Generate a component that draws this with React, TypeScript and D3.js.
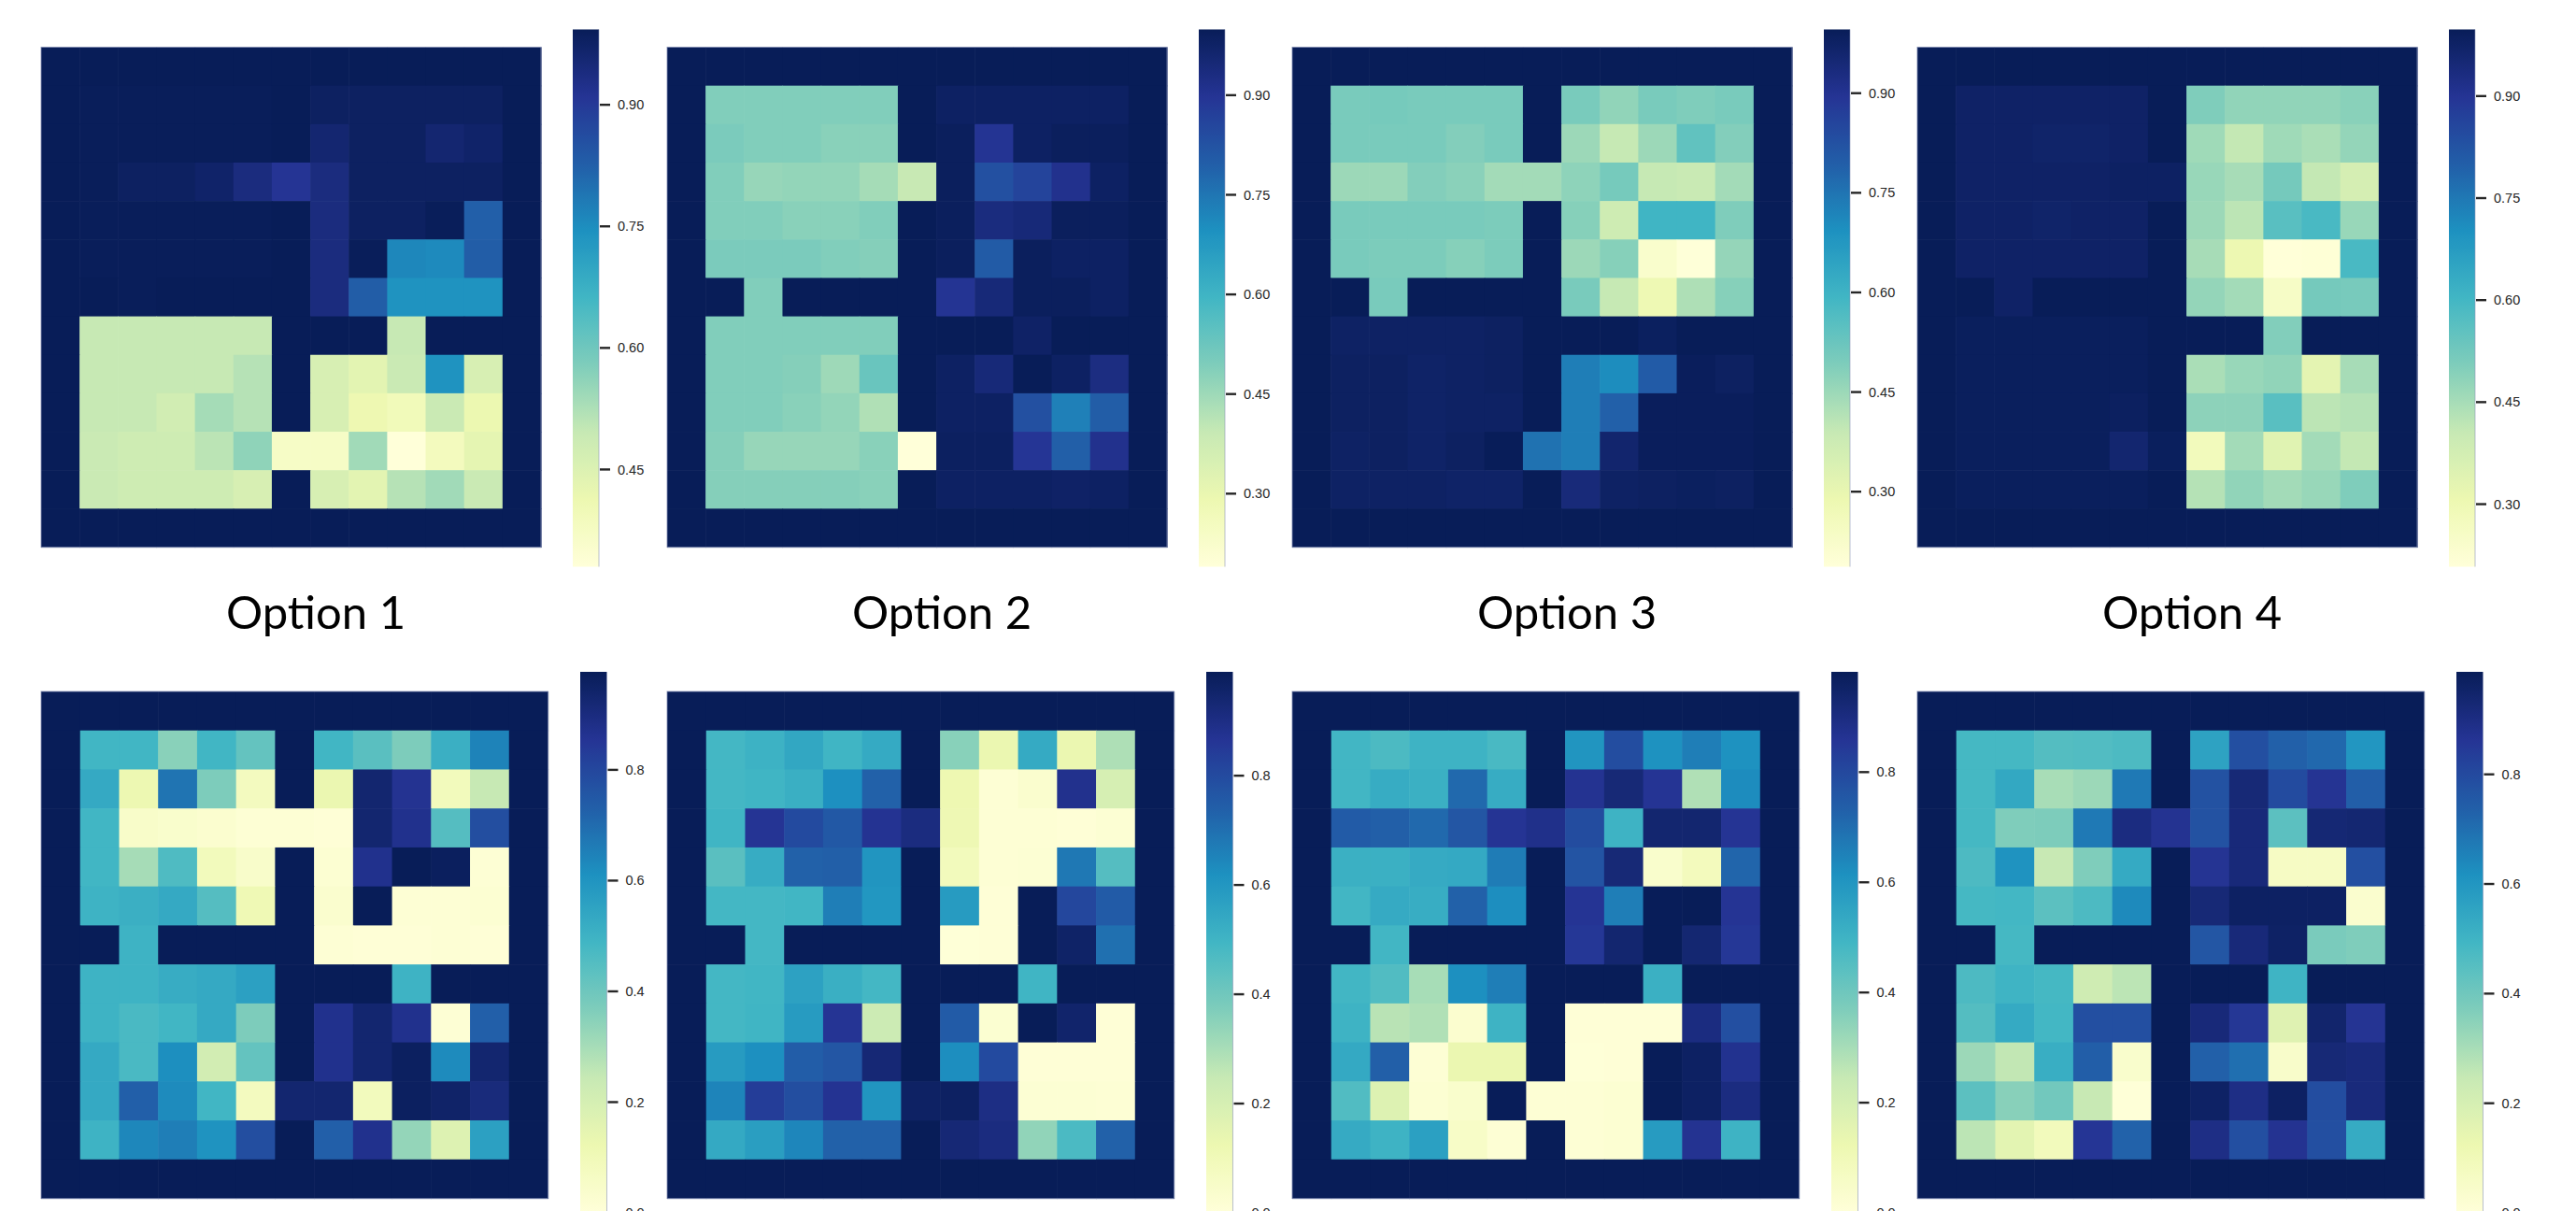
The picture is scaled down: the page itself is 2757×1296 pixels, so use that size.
import React from 'react';
import * as d3 from 'd3';

// ---- data: 13x13 four-room grids, null = wall (drawn with colorbar max) ----
const P1 = [
  [null, null, null, null, null, null, null, null, null, null, null, null, null],
  [null, .99, .99, .99, .99, .99, null, .98, .98, .98, .98, .98, null],
  [null, .99, .99, .99, .99, .99, null, .96, .98, .98, .96, .97, null],
  [null, .99, .98, .98, .97, .94, .91, .94, .98, .98, .98, .98, null],
  [null, .99, .99, .99, .99, .99, null, .94, .98, .98, .99, .825, null],
  [null, .99, .99, .99, .99, .99, null, .94, .99, .76, .755, .83, null],
  [null, null, .99, null, null, null, null, .94, .83, .74, .74, .74, null],
  [null, .495, .495, .495, .495, .495, null, null, null, .495, null, null, null],
  [null, .495, .495, .495, .495, .515, null, .46, .435, .49, .74, .46, null],
  [null, .495, .495, .475, .535, .515, null, .46, .41, .395, .49, .415, null],
  [null, .49, .48, .48, .51, .56, .37, .37, .54, .33, .385, .43, null],
  [null, .49, .48, .48, .48, .46, null, .46, .435, .515, .54, .49, null],
  [null, null, null, null, null, null, null, null, null, null, null, null, null],
];
const P2 = [
  [null, null, null, null, null, null, null, null, null, null, null, null, null],
  [null, .49, .49, .49, .49, .49, null, .98, .98, .98, .98, .98, null],
  [null, .50, .49, .49, .48, .48, null, .99, .90, .98, .99, .99, null],
  [null, .49, .46, .465, .465, .44, .39, .99, .83, .86, .91, .98, null],
  [null, .49, .49, .48, .48, .49, null, .99, .935, .945, .99, .99, null],
  [null, .50, .50, .50, .49, .485, null, .99, .805, .99, .98, .98, null],
  [null, null, .49, null, null, null, null, .90, .945, .99, .99, .98, null],
  [null, .49, .49, .49, .49, .49, null, null, null, .975, null, null, null],
  [null, .49, .49, .485, .45, .53, null, .98, .945, 1.0, .98, .93, null],
  [null, .49, .49, .48, .465, .425, null, .98, .98, .83, .73, .80, null],
  [null, .485, .46, .46, .46, .48, .19, .985, .985, .895, .795, .91, null],
  [null, .485, .485, .485, .485, .48, null, .98, .98, .98, .975, .98, null],
  [null, null, null, null, null, null, null, null, null, null, null, null, null],
];
const P3 = [
  [null, null, null, null, null, null, null, null, null, null, null, null, null],
  [null, .50, .505, .50, .50, .50, null, .50, .465, .50, .49, .50, null],
  [null, .50, .50, .50, .485, .50, null, .45, .39, .45, .54, .485, null],
  [null, .45, .45, .485, .475, .44, .44, .47, .505, .39, .385, .44, null],
  [null, .50, .50, .50, .50, .495, null, .48, .37, .595, .595, .49, null],
  [null, .50, .495, .495, .48, .495, null, .45, .48, .22, .19, .46, null],
  [null, null, .50, null, null, null, null, .50, .39, .28, .425, .48, null],
  [null, .975, .975, .975, .975, .98, null, null, null, .985, null, null, null],
  [null, .98, .98, .97, .975, .98, null, .73, .70, .80, .99, .98, null],
  [null, .98, .98, .97, .975, .975, null, .73, .79, .99, .99, .99, null],
  [null, .975, .98, .97, .98, .995, .755, .73, .96, .99, .99, .99, null],
  [null, .975, .975, .975, .97, .97, null, .94, .975, .98, .985, .98, null],
  [null, null, null, null, null, null, null, null, null, null, null, null, null],
];
const P4 = [
  [null, null, null, null, null, null, null, null, null, null, null, null, null],
  [null, .975, .975, .975, .975, .975, null, .505, .48, .48, .48, .49, null],
  [null, .975, .975, .97, .97, .975, null, .46, .41, .46, .445, .475, null],
  [null, .975, .975, .975, .975, .98, .98, .47, .45, .52, .41, .37, null],
  [null, .975, .975, .97, .975, .975, null, .465, .42, .565, .59, .47, null],
  [null, .975, .975, .975, .975, .975, null, .45, .305, .21, .215, .59, null],
  [null, null, .975, null, null, null, null, .475, .455, .255, .52, .515, null],
  [null, .99, .99, .99, .99, .99, null, null, null, .50, null, null, null],
  [null, .99, .99, .99, .99, .99, null, .445, .47, .48, .33, .45, null],
  [null, .99, .99, .99, .99, .985, null, .485, .485, .565, .42, .43, null],
  [null, .99, .99, .99, .99, .96, .99, .28, .455, .34, .455, .41, null],
  [null, .99, .99, .99, .99, .99, null, .43, .48, .455, .47, .505, null],
  [null, null, null, null, null, null, null, null, null, null, null, null, null],
];
const P5 = [
  [null, null, null, null, null, null, null, null, null, null, null, null, null],
  [null, .49, .49, .35, .49, .42, null, .49, .44, .37, .51, .645, null],
  [null, .53, .12, .68, .37, .08, null, .13, .93, .86, .09, .245, null],
  [null, .49, .05, .04, .03, .015, .015, .01, .93, .87, .45, .78, null],
  [null, .49, .30, .46, .09, .045, null, .02, .87, .977, .965, .015, null],
  [null, .50, .51, .53, .45, .11, null, .035, .977, .015, .015, .02, null],
  [null, null, .50, null, null, null, null, .015, .01, .01, .015, .01, null],
  [null, .50, .50, .52, .53, .56, null, null, null, .50, null, null, null],
  [null, .50, .47, .49, .53, .37, null, .87, .93, .87, .015, .73, null],
  [null, .53, .47, .615, .21, .42, null, .87, .93, .96, .625, .93, null],
  [null, .53, .73, .625, .49, .08, .93, .93, .085, .96, .945, .905, null],
  [null, .50, .635, .655, .605, .78, null, .73, .87, .33, .175, .56, null],
  [null, null, null, null, null, null, null, null, null, null, null, null, null],
];
const P6 = [
  [null, null, null, null, null, null, null, null, null, null, null, null, null],
  [null, .49, .51, .545, .50, .535, null, .355, .13, .535, .13, .29, null],
  [null, .49, .50, .52, .62, .735, null, .12, .015, .035, .88, .20, null],
  [null, .50, .865, .80, .76, .87, .91, .115, .015, .015, .01, .02, null],
  [null, .445, .53, .735, .74, .605, null, .09, .015, .02, .68, .455, null],
  [null, .49, .49, .495, .665, .60, null, .585, .01, .99, .81, .75, null],
  [null, null, .49, null, null, null, null, .005, .01, .99, .96, .70, null],
  [null, .49, .495, .565, .52, .49, null, null, null, .50, null, null, null],
  [null, .49, .50, .585, .865, .23, null, .75, .025, .99, .95, .01, null],
  [null, .585, .62, .745, .765, .93, null, .625, .80, .01, .01, .01, null],
  [null, .65, .84, .79, .87, .605, .965, .97, .90, .02, .02, .015, null],
  [null, .54, .575, .645, .735, .735, null, .93, .91, .34, .475, .735, null],
  [null, null, null, null, null, null, null, null, null, null, null, null, null],
];
const P7 = [
  [null, null, null, null, null, null, null, null, null, null, null, null, null],
  [null, .49, .47, .50, .50, .475, null, .60, .785, .61, .66, .61, null],
  [null, .49, .525, .51, .71, .525, null, .865, .92, .86, .285, .625, null],
  [null, .745, .735, .71, .76, .86, .88, .79, .50, .935, .935, .86, null],
  [null, .51, .51, .53, .535, .665, null, .765, .92, .04, .085, .72, null],
  [null, .49, .53, .52, .73, .62, null, .86, .66, .98, .982, .86, null],
  [null, null, .49, null, null, null, null, .85, .935, .98, .93, .85, null],
  [null, .49, .46, .30, .615, .66, null, null, null, .51, null, null, null],
  [null, .50, .27, .285, .03, .50, null, .01, .01, .01, .90, .78, null],
  [null, .535, .735, .015, .13, .13, null, .005, .01, .98, .96, .87, null],
  [null, .46, .175, .02, .04, .98, .015, .015, .02, .98, .96, .90, null],
  [null, .53, .50, .565, .055, .015, null, .015, .02, .58, .865, .50, null],
  [null, null, null, null, null, null, null, null, null, null, null, null, null],
];
const P8 = [
  [null, null, null, null, null, null, null, null, null, null, null, null, null],
  [null, .485, .485, .455, .46, .47, null, .56, .785, .735, .715, .60, null],
  [null, .485, .54, .30, .32, .675, null, .775, .925, .795, .865, .74, null],
  [null, .485, .37, .375, .675, .905, .87, .775, .92, .44, .93, .935, null],
  [null, .47, .61, .245, .37, .535, null, .865, .92, .065, .065, .785, null],
  [null, .485, .49, .44, .47, .635, null, .925, .965, .965, .965, .035, null],
  [null, null, .485, null, null, null, null, .765, .92, .96, .38, .37, null],
  [null, .47, .50, .485, .22, .265, null, null, null, .50, null, null, null],
  [null, .455, .535, .49, .785, .785, null, .92, .855, .17, .945, .865, null],
  [null, .32, .255, .52, .74, .04, null, .735, .70, .045, .925, .915, null],
  [null, .44, .355, .395, .245, .005, .985, .96, .895, .965, .79, .915, null],
  [null, .265, .155, .09, .86, .73, null, .895, .785, .87, .785, .53, null],
  [null, null, null, null, null, null, null, null, null, null, null, null, null],
];

const PANELS = [P1, P2, P3, P4, P5, P6, P7, P8];
const CBAR_MIN = [0.33, 0.19, 0.187, 0.208, 0, 0, 0, 0];
const CBAR_MAX = [0.993, 0.999, 0.996, 0.998, 0.977, 0.99, 0.982, 0.987];
const CBAR_TICKS = [
  [0.45, 0.6, 0.75, 0.9],
  [0.3, 0.45, 0.6, 0.75, 0.9],
  [0.3, 0.45, 0.6, 0.75, 0.9],
  [0.3, 0.45, 0.6, 0.75, 0.9],
  [0, 0.2, 0.4, 0.6, 0.8],
  [0, 0.2, 0.4, 0.6, 0.8],
  [0, 0.2, 0.4, 0.6, 0.8],
  [0, 0.2, 0.4, 0.6, 0.8],
];
const TICK_DECIMALS = [2, 2, 2, 2, 1, 1, 1, 1];
const OPTION_TITLES = ['Option 1', 'Option 2', 'Option 3', 'Option 4'];

// ---- layout ----
const W = 2757;
const H = 1296;
const PANEL_LEFT = [44, 714, 1383, 2052];
const ROW_LAYOUT = [
  { top: 50.5, size: 535, cbOffset: 569, cbWidth: 28, cbTop: 31.5, cbHeight: 575 },
  { top: 740, size: 542.5, cbOffset: 577, cbWidth: 28.5, cbTop: 719, cbHeight: 579 },
];
const TITLE_OFFSET = 294;
const TITLE_BASELINE = 673;

const cmap = d3.piecewise(d3.interpolateRgb, d3.schemeYlGnBu[9] as string[]);

function Panel({ idx }: { idx: number }) {
  const grid = PANELS[idx];
  const r = idx < 4 ? 0 : 1;
  const L = ROW_LAYOUT[r];
  const left = PANEL_LEFT[idx % 4];
  const vmin = CBAR_MIN[idx];
  const vmax = CBAR_MAX[idx];
  const color = d3.scaleSequential(cmap).domain([vmin, vmax]).clamp(true);
  const idxs = d3.range(grid.length);
  const x = d3.scaleBand<number>().domain(idxs).range([left, left + L.size]);
  const y = d3.scaleBand<number>().domain(idxs).range([L.top, L.top + L.size]);
  const cbX = left + L.cbOffset;
  const cbY = d3.scaleLinear().domain([vmin, vmax]).range([L.cbTop + L.cbHeight, L.cbTop]);
  const gid = `cbgrad${idx}`;
  const stops = d3.range(0, 1.0001, 1 / 64);
  return (
    <g>
      <defs>
        <linearGradient id={gid} x1="0" y1="1" x2="0" y2="0">
          {stops.map((s, k) => (
            <stop key={k} offset={s} stopColor={cmap(s)} />
          ))}
        </linearGradient>
      </defs>
      {grid.map((row, i) =>
        row.map((v, j) => (
          <rect
            key={`${i}-${j}`}
            x={x(j)}
            y={y(i)}
            width={x.bandwidth() + 0.6}
            height={y.bandwidth() + 0.6}
            fill={color(v === null ? vmax : v)}
          />
        ))
      )}
      <rect x={left} y={L.top} width={L.size} height={L.size} fill="none" stroke="#7f8bb0" strokeWidth={1} strokeOpacity={0.8} />
      <rect x={cbX} y={L.cbTop} width={L.cbWidth} height={L.cbHeight} fill={`url(#${gid})`} />
      <line x1={cbX + L.cbWidth} x2={cbX + L.cbWidth} y1={L.cbTop} y2={L.cbTop + L.cbHeight} stroke="#8c96b8" strokeWidth={1} strokeOpacity={0.6} />
      {CBAR_TICKS[idx].map((t) => (
        <g key={t}>
          <line x1={cbX + L.cbWidth + 1} x2={cbX + L.cbWidth + 12} y1={cbY(t)} y2={cbY(t)} stroke="#262626" strokeWidth={2.4} />
          <text
            x={cbX + L.cbWidth + 20}
            y={cbY(t)}
            dy="0.35em"
            fontSize={14.5}
            fontFamily="'Liberation Sans', Arial, sans-serif"
            fill="#262626"
          >
            {t.toFixed(TICK_DECIMALS[idx])}
          </text>
        </g>
      ))}
    </g>
  );
}

export default function App() {
  return (
    <svg
      width={W}
      height={H}
      viewBox={`0 0 ${W} ${H}`}
      style={{ position: 'absolute', left: 0, top: 0, background: '#ffffff' }}
    >
      <rect x={0} y={0} width={W} height={H} fill="#ffffff" />
      {PANELS.map((_, i) => (
        <Panel key={i} idx={i} />
      ))}
      {OPTION_TITLES.map((t, i) => (
        <text
          key={t}
          x={PANEL_LEFT[i] + TITLE_OFFSET}
          y={TITLE_BASELINE}
          textAnchor="middle"
          fontSize={49}
          fontFamily="Lato, 'Open Sans', sans-serif"
          fill="#000000"
        >
          {t}
        </text>
      ))}
    </svg>
  );
}
